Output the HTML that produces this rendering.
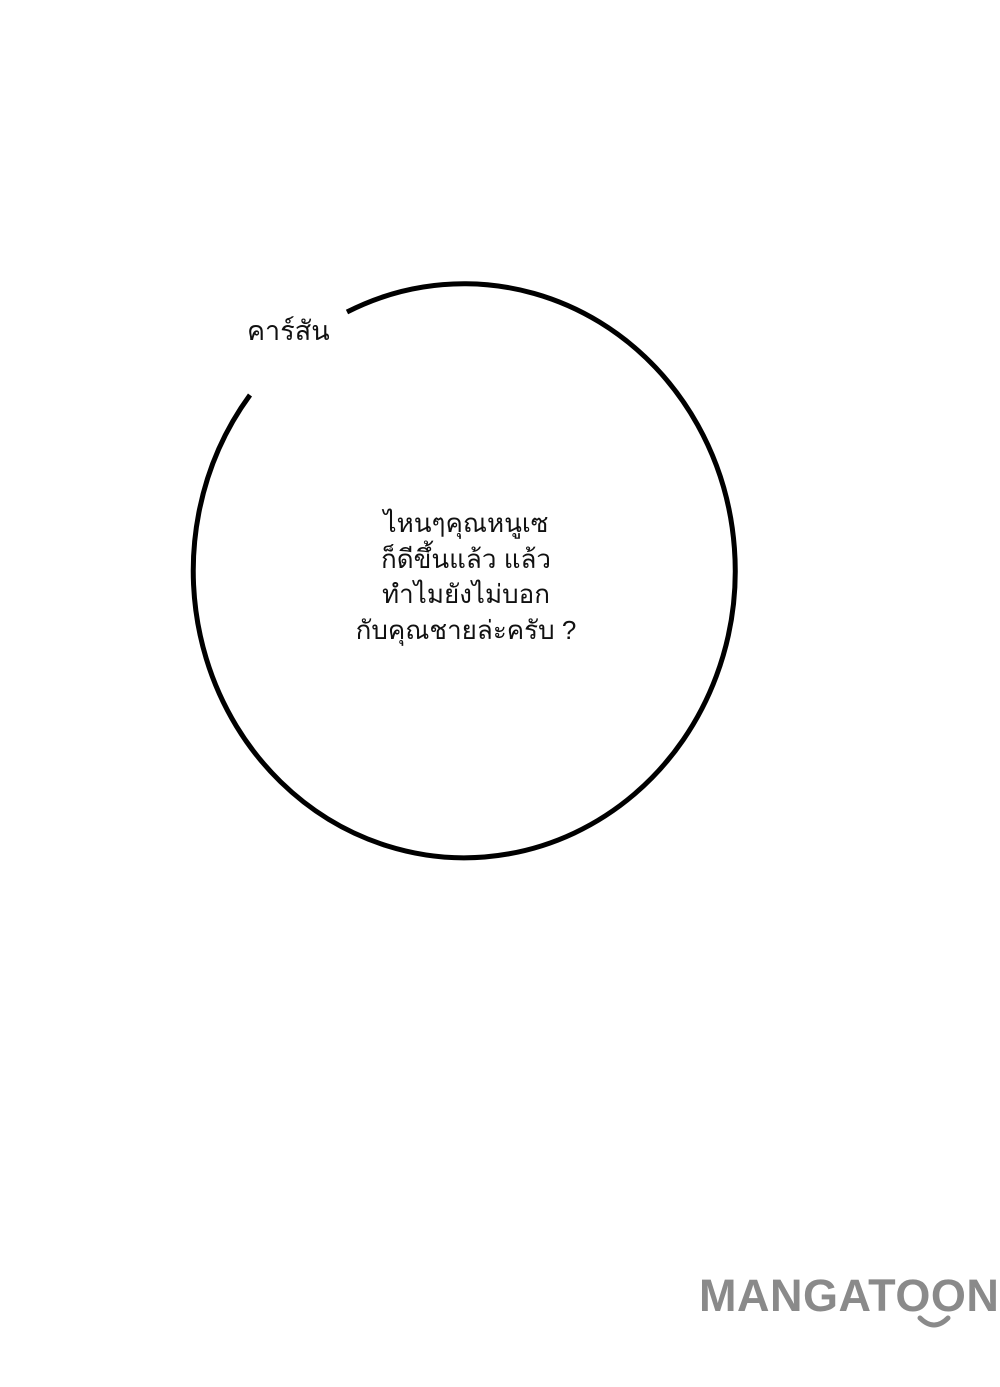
<!DOCTYPE html>
<html><head><meta charset="utf-8"><style>
html,body{margin:0;padding:0;background:#fff;}
body{width:1000px;height:1387px;position:relative;overflow:hidden;font-family:"Liberation Sans","Noto Sans CJK SC",sans-serif;}
.t{position:absolute;color:#111;}
</style></head><body>
<svg width="1000" height="1387" style="position:absolute;left:0;top:0">
<path d="M347,312 A271,287 0 1 1 250,395" fill="none" stroke="#000" stroke-width="5"/>
<path d="M920,1318 Q934,1332 948,1318" fill="none" stroke="#8a8a8a" stroke-width="5" stroke-linecap="round"/>
</svg>
<div class="t" style="left:247px;top:309px;font-size:27px;">คาร์สัน</div>
<div class="t" style="left:266px;top:506px;width:400px;text-align:center;font-size:26px;line-height:35.5px;">ไหนๆคุณหนูเซ<br>ก็ดีขึ้นแล้ว แล้ว<br>ทำไมยังไม่บอก<br>กับคุณชายล่ะครับ ?</div>
<div style="position:absolute;left:699px;top:1270px;font-size:45px;font-weight:bold;color:#8a8a8a;letter-spacing:0.5px;font-family:'Liberation Sans',sans-serif;">MANGATOON</div>
</body></html>
